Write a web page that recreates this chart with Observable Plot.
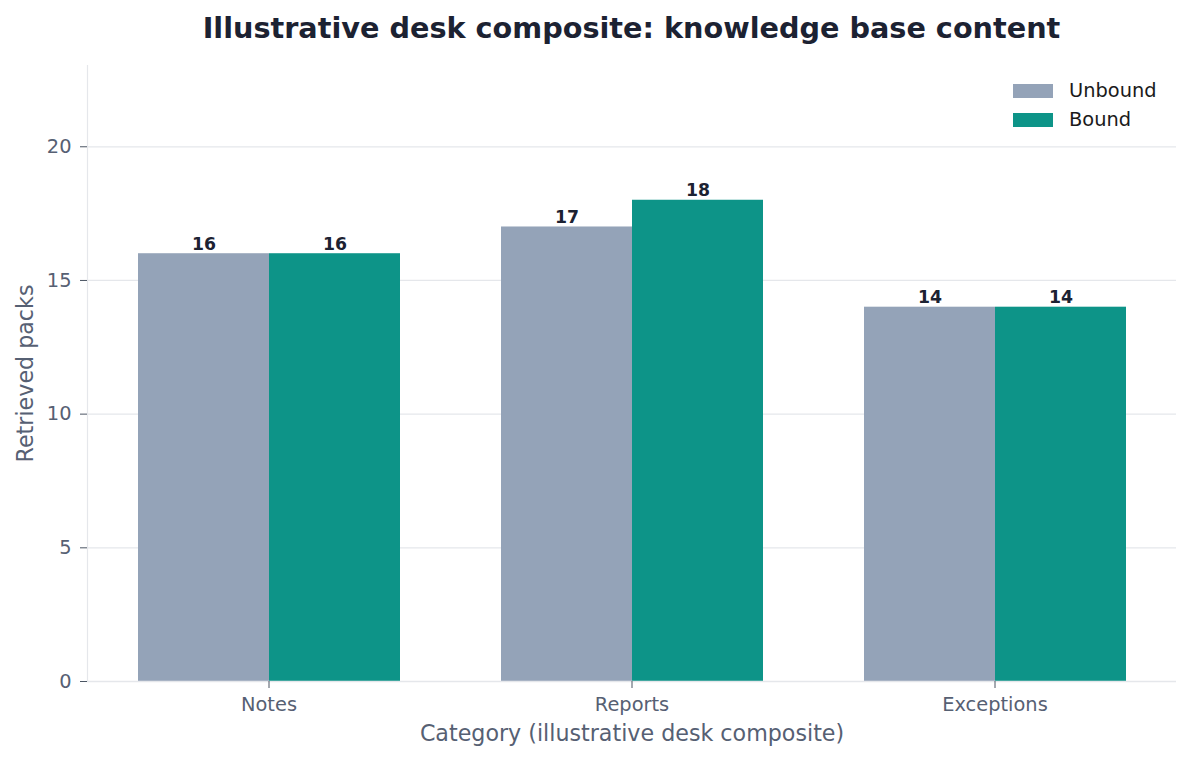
<!DOCTYPE html>
<html>
<head>
<meta charset="utf-8">
<script src="https://cdn.jsdelivr.net/npm/d3@7"></script>
<script src="https://cdn.jsdelivr.net/npm/@observablehq/plot@0.6"></script>
<style>
  html, body { margin: 0; padding: 0; background: #ffffff; }
  #wrap { position: relative; width: 1193px; height: 760px; font-family: "DejaVu Sans", sans-serif; }
  #title { box-sizing: border-box; height: 50px; padding: 14px 16px 0 86px; font-size: 28.7px; line-height: 28px; font-weight: bold; color: #1c2232; text-align: center; white-space: nowrap; }
  #legend { position: absolute; left: 1013px; top: 76px; font-size: 19.4px; color: #1a1a1a; }
  .item { display: flex; align-items: center; height: 29px; }
  .sw { width: 40px; height: 14px; margin-right: 16px; }
</style>
</head>
<body>
<div id="wrap">
  <div id="title">Illustrative desk composite: knowledge base content</div>
  <div id="chart"></div>
  <div id="legend"></div>
</div>
<script>
const categories = ["Notes", "Reports", "Exceptions"];
const series = ["Unbound", "Bound"];
const unboundValues = [16, 17, 14];
const boundValues = [16, 18, 14];
const yTicks = [0, 5, 10, 15, 20];
const colors = ["#94a3b8", "#0d9488"];

const data = categories.flatMap((c, i) => [
  {category: c, series: "Unbound", value: unboundValues[i]},
  {category: c, series: "Bound", value: boundValues[i]}
]);

const chart = Plot.plot({
  width: 1193,
  height: 710,
  marginTop: 15,
  marginLeft: 86,
  marginRight: 16,
  marginBottom: 79,
  style: {fontFamily: "DejaVu Sans, sans-serif", fontSize: "19.4px", color: "#566073", background: "#ffffff"},
  fx: {domain: categories, padding: 0},
  x: {domain: series, paddingInner: 0, paddingOuter: 0.38, axis: null},
  y: {domain: [0, 23.04]},
  color: {domain: series, range: colors},
  marks: [
    Plot.ruleY(yTicks, {stroke: "#e5e7eb", strokeWidth: 1.2}),
    Plot.frame({anchor: "left", facetAnchor: "left", stroke: "#e5e7eb", strokeWidth: 1.2}),
    Plot.barY(data, {fx: "category", x: "series", y: "value", fill: "series"}),
    Plot.ruleY([0], {stroke: "#e5e7eb", strokeWidth: 1.5}),
    Plot.text(data, {fx: "category", x: "series", y: "value", text: d => String(d.value), dy: -4, lineAnchor: "bottom", fontWeight: "bold", fontSize: 17.3, fill: "#1c2232"}),
    Plot.axisY(yTicks, {tickSize: 7, tickPadding: 9, fontSize: 19.4, label: null, stroke: "#4b5563"}),
    Plot.axisY([], {tickSize: 0, label: "Retrieved packs", labelAnchor: "center", labelOffset: 70, labelArrow: "none", fontSize: 22.2}),
    Plot.axisFx({anchor: "bottom", tickSize: 7, tickPadding: 9, fontSize: 19.4, label: null, stroke: "#4b5563"}),
    Plot.axisFx([], {anchor: "bottom", tickSize: 0, label: "Category (illustrative desk composite)", labelAnchor: "center", labelOffset: 59, labelArrow: "none", fontSize: 22.2})
  ]
});
document.getElementById("chart").appendChild(chart);

const legend = document.getElementById("legend");
series.forEach((s, i) => {
  const item = document.createElement("div");
  item.className = "item";
  const sw = document.createElement("div");
  sw.className = "sw";
  sw.style.background = colors[i];
  const label = document.createElement("span");
  label.textContent = s;
  item.appendChild(sw);
  item.appendChild(label);
  legend.appendChild(item);
});
</script>
</body>
</html>
